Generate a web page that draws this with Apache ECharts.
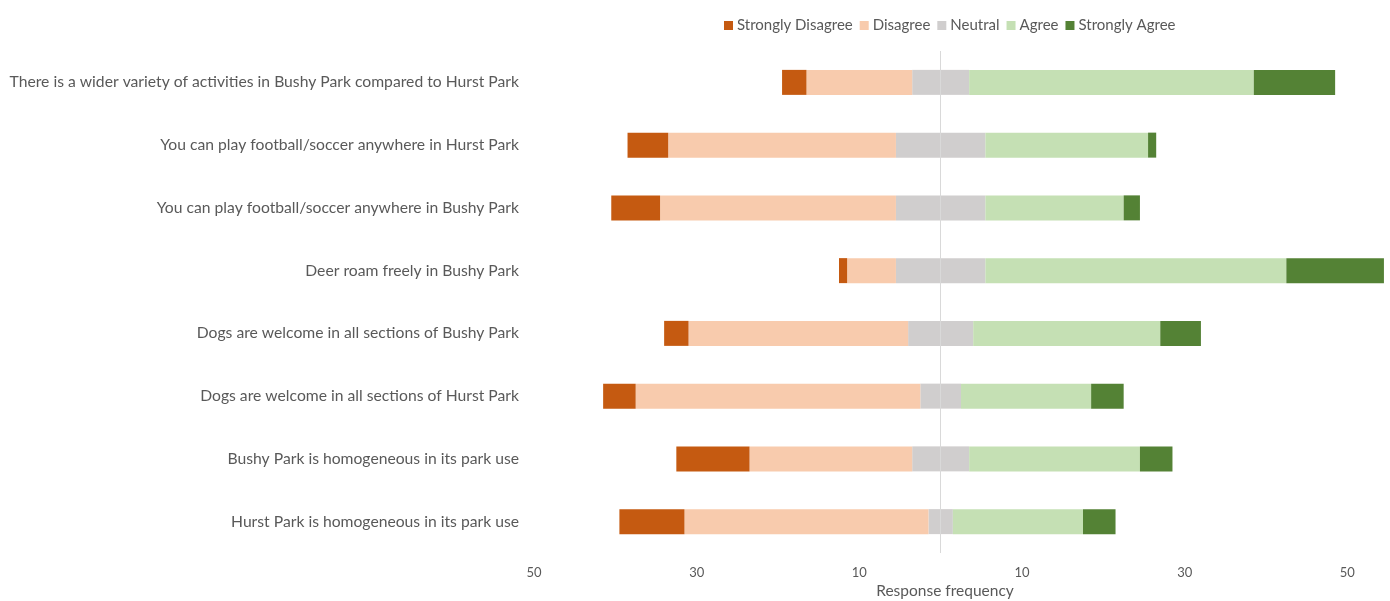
<!DOCTYPE html>
<html>
<head>
<meta charset="utf-8">
<script src="https://cdn.jsdelivr.net/npm/echarts@6/dist/echarts.min.js"></script>
<style>
  html, body { margin: 0; padding: 0; background: #ffffff; }
  #chart { width: 1390px; height: 601px; }
</style>
</head>
<body>
<div id="chart"></div>
<script>
// Statements, listed top to bottom
const statements = [
  'There is a wider variety of activities in Bushy Park compared to Hurst Park',
  'You can play football/soccer anywhere in Hurst Park',
  'You can play football/soccer anywhere in Bushy Park',
  'Deer roam freely in Bushy Park',
  'Dogs are welcome in all sections of Bushy Park',
  'Dogs are welcome in all sections of Hurst Park',
  'Bushy Park is homogeneous in its park use',
  'Hurst Park is homogeneous in its park use'
];

// Response counts per statement
const stronglyDisagree = [3, 5, 6, 1, 3, 4, 9, 8];
const disagree         = [13, 28, 29, 6, 27, 35, 20, 30];
const neutral          = [7, 11, 11, 11, 8, 5, 7, 3];
const agree            = [35, 20, 17, 37, 23, 16, 21, 16];
const stronglyAgree    = [10, 1, 2, 12, 5, 4, 4, 4];

const levels = ['Strongly Disagree', 'Disagree', 'Neutral', 'Agree', 'Strongly Agree'];
const colors = {
  'Strongly Disagree': '#c55a11',
  'Disagree': '#f8cbad',
  'Neutral': '#d0cece',
  'Agree': '#c5e0b4',
  'Strongly Agree': '#548235'
};

const FONT = 'Lato';
const TEXT = '#595959';

// Neutral is split in half around zero; disagreement runs left (negative)
const neutralHalfLeft  = neutral.map(v => -v / 2);
const neutralHalfRight = neutral.map(v => v / 2);
const disagreeLeft = disagree.map(v => -v);
const stronglyDisagreeLeft = stronglyDisagree.map(v => -v);

function bar(name, data, extra) {
  return Object.assign({
    name: name,
    type: 'bar',
    stack: 'likert',
    barWidth: 25,
    data: data,
    itemStyle: { color: colors[name] },
    emphasis: { disabled: true }
  }, extra || {});
}

const chart = echarts.init(document.getElementById('chart'), null, { renderer: 'canvas' });

chart.setOption({
  animation: false,
  backgroundColor: '#ffffff',
  textStyle: { fontFamily: FONT },
  legend: {
    data: levels,
    top: 13,
    left: 719,
    itemWidth: 9,
    itemHeight: 9,
    itemGap: 7,
    icon: 'rect',
    textStyle: { color: TEXT, fontSize: 15, fontFamily: FONT, padding: [0, 0, 0, -1] }
  },
  grid: { left: 534, right: 2, top: 51, bottom: 48, containLabel: false },
  xAxis: {
    type: 'value',
    min: -50,
    max: 55,
    interval: 20,
    axisLine: { show: false },
    axisTick: { show: false },
    splitLine: { show: false },
    axisLabel: {
      color: TEXT,
      fontSize: 13,
      fontFamily: FONT,
      margin: 13,
      showMaxLabel: false,
      formatter: v => String(Math.abs(v))
    }
  },
  yAxis: {
    type: 'category',
    inverse: true,
    data: statements,
    axisLine: { show: false },
    axisTick: { show: false },
    splitLine: { show: false },
    axisLabel: { color: TEXT, fontSize: 15.7, fontFamily: FONT, margin: 15 }
  },
  graphic: [{
    type: 'text',
    x: 945,
    y: 583,
    style: { text: 'Response frequency', fill: TEXT, font: '15.5px ' + FONT, textAlign: 'center' }
  }],
  series: [
    bar('Neutral', neutralHalfLeft, {
      markLine: {
        silent: true,
        symbol: 'none',
        label: { show: false },
        lineStyle: { color: '#d9d9d9', width: 1, type: 'solid' },
        data: [{ xAxis: 0 }]
      }
    }),
    bar('Disagree', disagreeLeft),
    bar('Strongly Disagree', stronglyDisagreeLeft),
    bar('Neutral', neutralHalfRight),
    bar('Agree', agree),
    bar('Strongly Agree', stronglyAgree)
  ]
});
</script>
</body>
</html>
